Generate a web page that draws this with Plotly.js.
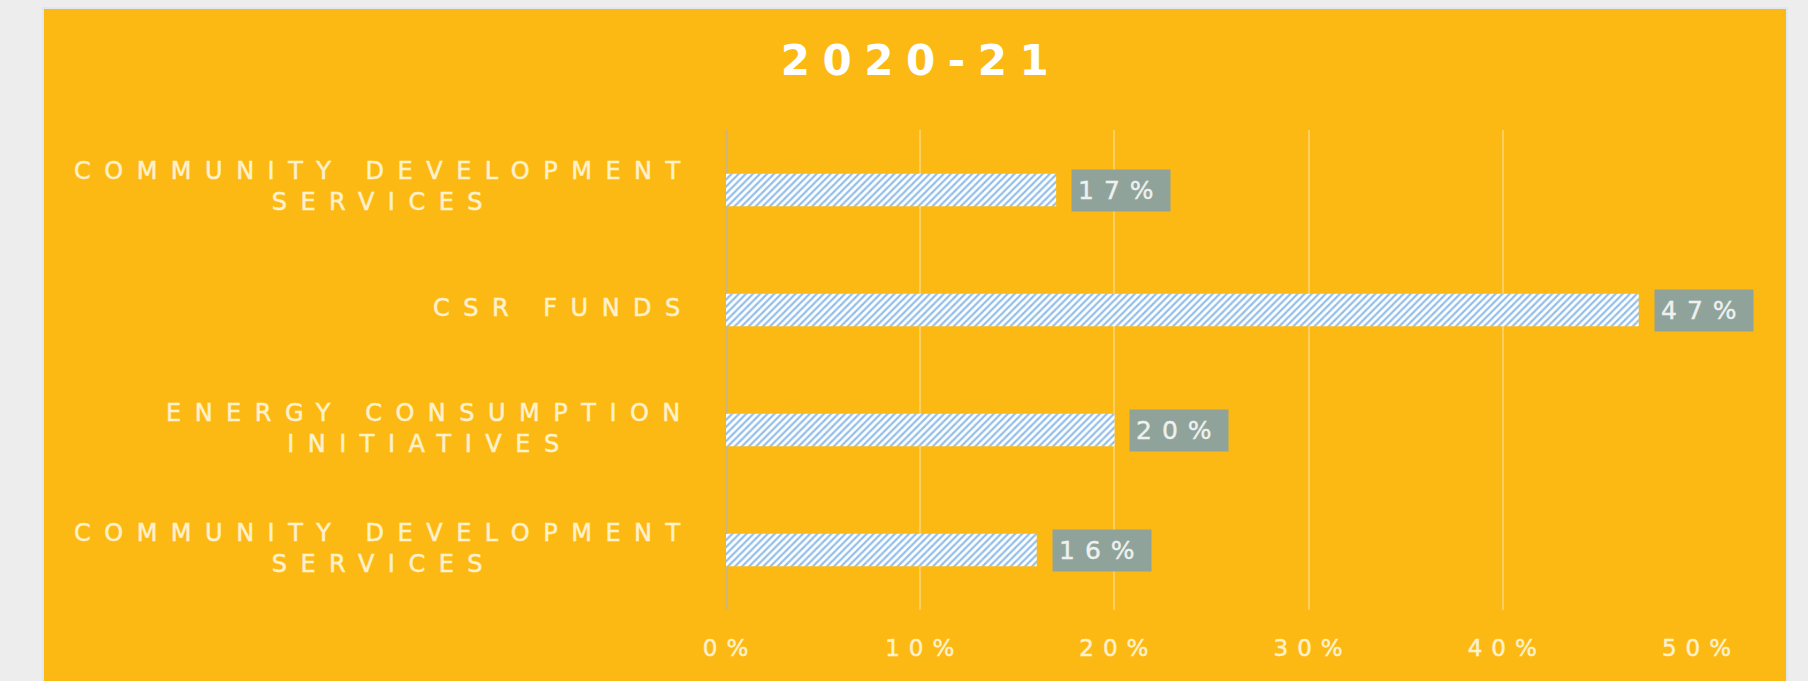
<!DOCTYPE html>
<html>
<head>
<meta charset="utf-8">
<script src="https://cdn.plot.ly/plotly-3.0.1.min.js"></script>
<style>
  html, body { margin: 0; padding: 0; background: #EDEDED; width: 1808px; height: 681px; overflow: hidden; }
  #frame { position: absolute; left: 42px; top: 7px; width: 1742px; height: 674px; border: 2px solid #E2E7EF; border-bottom: none; }
  #chart { width: 1742px; height: 674px; }
  .gtitle { letter-spacing: 12.5px; }
  .xtick text { letter-spacing: 9px; stroke: #FFF1CC; stroke-width: 0.5px; }
  text.annotation-text[style*="24px"] { letter-spacing: 13.5px; stroke: #FFF1CC; stroke-width: 0.5px; }
  text.annotation-text[style*="25px"] { letter-spacing: 10px; stroke: #EEF1EF; stroke-width: 0.4px; }
</style>
</head>
<body>
<div id="frame"><div id="chart"></div></div>
<script>
// ---- data (top to bottom as shown) ----
const titleText = "2020-21";
const categories = [
  "COMMUNITY DEVELOPMENT<br>SERVICES",
  "CSR FUNDS",
  "ENERGY CONSUMPTION<br>INITIATIVES",
  "COMMUNITY DEVELOPMENT<br>SERVICES"
];
const values = [0.17, 0.47, 0.20, 0.16];
const valueLabels = ["17%", "47%", "20%", "16%"];
const xTickValues = [0, 0.1, 0.2, 0.3, 0.4, 0.5];
const xTickLabels = ["0%", "10%", "20%", "30%", "40%", "50%"];

const positions = categories.map((_, i) => i);

const trace = {
  type: "bar",
  orientation: "h",
  x: values,
  y: positions,
  marker: {
    color: "#FFFFFF",
    line: { width: 0 },
    pattern: { shape: "/", fgcolor: "#93BFEA", bgcolor: "#FFFFFF", size: 5, solidity: 0.45 }
  },
  hoverinfo: "skip"
};

const labelAnnotations = categories.map((c, i) => ({
  xref: "paper", yref: "y",
  x: 0, y: positions[i],
  xanchor: "right", yanchor: "middle",
  xshift: -30, yshift: i === 0 ? 4 : 2,
  text: c, align: "center", showarrow: false,
  font: { family: "DejaVu Sans", size: 24, color: "#FFF1CC" }
}));

const valueAnnotations = values.map((v, i) => ({
  xref: "x", yref: "y",
  x: v, y: positions[i],
  xanchor: "left", yanchor: "middle",
  xshift: 15,
  text: valueLabels[i], showarrow: false,
  bgcolor: "#8FA39A", borderpad: 6,
  font: { family: "DejaVu Sans", size: 25, color: "#EEF1EF" }
}));

const layout = {
  width: 1742, height: 674,
  paper_bgcolor: "#FDB913",
  plot_bgcolor: "#FDB913",
  margin: { l: 682, r: 89, t: 121, b: 73 },
  showlegend: false,
  title: {
    text: titleText,
    x: 0.5 + 6 / 1742, xref: "container",
    y: 1 - 51 / 674, yref: "container", yanchor: "middle",
    font: { family: "DejaVu Sans", size: 42, color: "#FFFFFF", weight: "bold" }
  },
  bargap: 0.73,
  xaxis: {
    range: [0, 0.5],
    tickvals: xTickValues,
    ticktext: xTickLabels,
    showgrid: true, gridcolor: "rgba(255,255,255,0.32)", gridwidth: 2,
    zeroline: true, zerolinecolor: "#CDB77C", zerolinewidth: 3,
    showline: false, ticks: "",
    ticklabelstandoff: 22,
    ticklabelshift: 4,
    tickfont: { family: "DejaVu Sans", size: 23, color: "#FFF1CC" },
    fixedrange: true
  },
  yaxis: {
    range: [3.5, -0.5],
    showticklabels: false, showgrid: false, zeroline: false, showline: false, ticks: "",
    fixedrange: true
  },
  annotations: labelAnnotations.concat(valueAnnotations)
};

Plotly.newPlot("chart", [trace], layout, { displayModeBar: false, staticPlot: true });
</script>
</body>
</html>
